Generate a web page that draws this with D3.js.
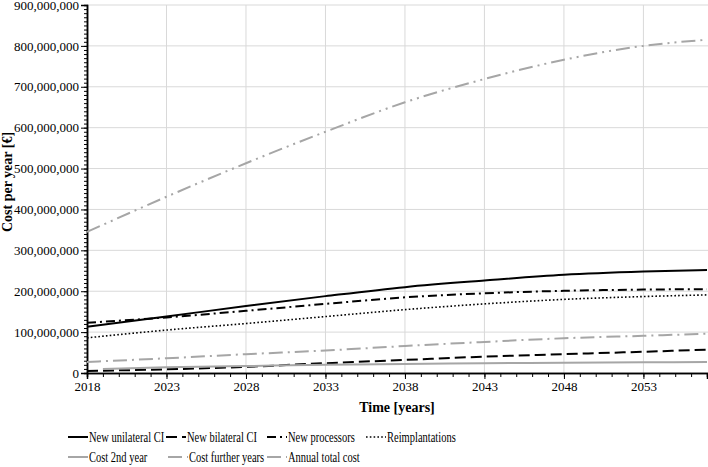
<!DOCTYPE html>
<html lang="en">
<head>
  <meta charset="UTF-8" />
  <title>Cost per year</title>
  <script src="https://d3js.org/d3.v7.min.js"></script>
  <style>
    body { margin: 0; background: #fff; }
    svg text { font-family: "Liberation Serif", "Tinos", "DejaVu Serif", serif; fill: #000; }
    .grid line { stroke: #d9d9d9; stroke-width: 1px; }
    .axis path, .axis line { stroke: #000; }
    .axis text { font-size: 13px; }
    .title { font-size: 14px; font-weight: bold; }
    .legend text { font-size: 15px; }
  </style>
</head>
<body>
<svg id="chart" width="708" height="467"></svg>
<script>
const years = [2018, 2023, 2028, 2033, 2038, 2043, 2048, 2053, 2057];

const newUnilateral = [113, 138, 164, 188, 210, 226, 240, 248, 252];
const newBilateral  = [5, 9, 15, 24, 32, 40, 46, 52, 57];
const newProcessors = [123, 136, 152, 169, 185, 195, 201, 204, 205];
const reimplant     = [86, 105, 121, 138, 155, 169, 180, 187, 191];
const cost2ndYears  = [2019, 2023, 2028, 2033, 2038, 2043, 2048, 2053, 2057];
const cost2nd       = [10, 14, 17, 20, 22, 24, 25, 26, 27];
const costFurther   = [27, 36, 46, 55, 66, 76, 85, 91, 96];
const annualTotal   = [345, 431, 513, 590, 662, 719, 766, 800, 815];

const seriesNames = ["New unilateral CI", "New bilateral CI", "New processors", "Reimplantations",
                     "Cost 2nd year", "Cost further years", "Annual total cost"];

const yTicks = d3.range(0, 900000001, 100000000);
const xTicks = [2018, 2023, 2028, 2033, 2038, 2043, 2048, 2053];

const gray = "#a6a6a6";
const styles = [
  { color: "#000", width: 2, dash: null },
  { color: "#000", width: 2, dash: "11,5" },
  { color: "#000", width: 2, dash: "9,4,2,4" },
  { color: "#000", width: 1.6, dash: "1.6,2.2" },
  { color: gray, width: 2, dash: null },
  { color: gray, width: 2, dash: "14,5,2,5" },
  { color: gray, width: 2, dash: "14,5,2,5,2,5" }
];

const series = [
  { x: years, y: newUnilateral },
  { x: years, y: newBilateral },
  { x: years, y: newProcessors },
  { x: years, y: reimplant },
  { x: cost2ndYears, y: cost2nd },
  { x: years, y: costFurther },
  { x: years, y: annualTotal }
].map((s, i) => ({ name: seriesNames[i], style: styles[i],
  values: s.x.map((yr, j) => ({ year: yr, value: s.y[j] * 1e6 })) }));

const svg = d3.select("#chart");
const m = { left: 87, right: 0, top: 5, bottom: 94 };
const W = 708, H = 467;

const x = d3.scaleLinear().domain([2018, 2057]).range([m.left, W - m.right - 1]);
const y = d3.scaleLinear().domain([0, 900000000]).range([H - m.bottom, m.top]);

// gridlines
svg.append("g").attr("class", "grid")
  .selectAll("line").data(yTicks.slice(1)).join("line")
  .attr("x1", m.left).attr("x2", W).attr("y1", d => y(d)).attr("y2", d => y(d));
svg.append("g").attr("class", "grid")
  .selectAll("line").data(xTicks.slice(1)).join("line")
  .attr("x1", d => x(d)).attr("x2", d => x(d)).attr("y1", y(0)).attr("y2", y(900000000));

// minor ticks
svg.append("g").attr("class", "axis")
  .attr("transform", `translate(${m.left},0)`)
  .call(d3.axisLeft(y).tickValues(d3.range(0, 900000001, 10000000)).tickSize(3).tickFormat(""));
svg.append("g").attr("class", "axis")
  .attr("transform", `translate(0,${y(0)})`)
  .call(d3.axisBottom(x).tickValues(d3.range(2018, 2058, 1)).tickSize(4).tickFormat(""));

// major axes
svg.append("g").attr("class", "axis")
  .attr("transform", `translate(${m.left},0)`)
  .call(d3.axisLeft(y).tickValues(yTicks).tickSize(6).tickPadding(2).tickFormat(d3.format(",")));
svg.append("g").attr("class", "axis")
  .attr("transform", `translate(0,${y(0)})`)
  .call(d3.axisBottom(x).tickValues(xTicks).tickSize(6).tickPadding(3).tickFormat(d3.format("d")));
svg.selectAll(".axis .domain").attr("stroke-width", 1.5);
svg.selectAll(".axis").attr("font-family", null);

// lines
const line = d3.line().x(d => x(d.year)).y(d => y(d.value)).curve(d3.curveMonotoneX);
svg.append("g").selectAll("path").data(series).join("path")
  .attr("fill", "none")
  .attr("stroke", d => d.style.color)
  .attr("stroke-width", d => d.style.width)
  .attr("stroke-dasharray", d => d.style.dash)
  .attr("d", d => line(d.values));

// axis titles
svg.append("text").attr("class", "title")
  .attr("x", 397).attr("y", 412).attr("text-anchor", "middle")
  .text("Time [years]");
svg.append("text").attr("class", "title")
  .attr("transform", `translate(12,182) rotate(-90)`)
  .attr("text-anchor", "middle")
  .text("Cost per year [€]");

// legend (text is narrow in the original, so squeeze it horizontally)
const legendPos = [[68, 437], [166, 437], [267, 437], [366, 437], [68, 457], [168, 457], [267, 457]];
const legend = svg.append("g").attr("class", "legend");
series.forEach((s, i) => {
  const [lx, ly] = legendPos[i];
  const g = legend.append("g").attr("transform", `translate(${lx},${ly})`);
  g.append("line").attr("x1", 0).attr("x2", 20).attr("y1", 0).attr("y2", 0)
    .attr("stroke", s.style.color).attr("stroke-width", s.style.width)
    .attr("stroke-dasharray", s.style.dash);
  g.append("text").attr("transform", "translate(21,5) scale(0.7,1)").text(s.name);
});
</script>
</body>
</html>
